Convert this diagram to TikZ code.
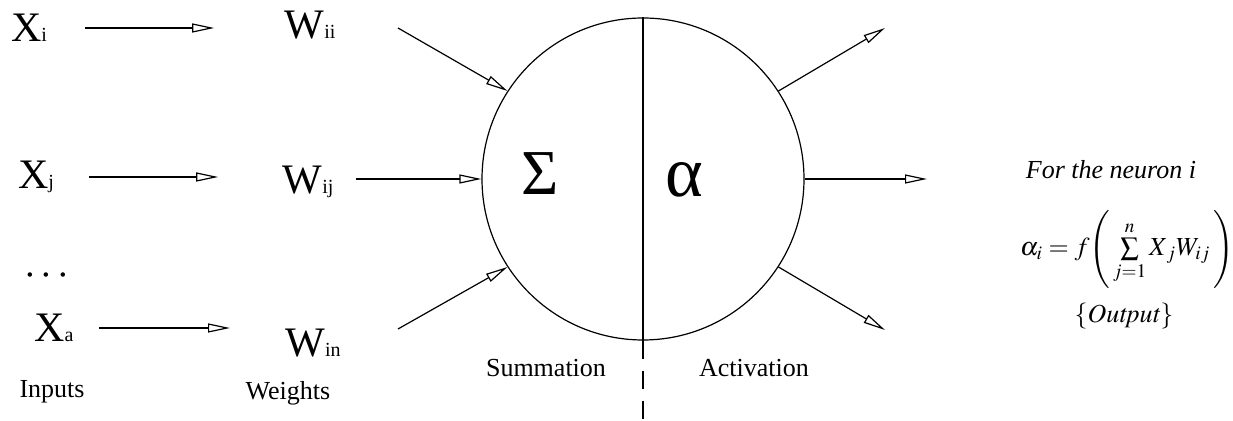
\documentclass[tikz,border=0pt]{standalone}
\usepackage{amsmath}
\usepackage{mathptmx}
\usepackage{fontspec}
\setmainfont{Liberation Serif}
\usepackage{tikz}
\usetikzlibrary{arrows.meta}

\newcommand{\sym}[2]{#1{\fontsize{10}{10}\selectfont #2}}

\begin{document}
\begin{tikzpicture}[
    x=0.5pt, y=-0.5pt,
    big/.style={font=\fontsize{21}{21}\selectfont, inner sep=0pt},
    caption/.style={font=\fontsize{13}{13}\selectfont, inner sep=0pt},
    tip/.style={-{Triangle[open, length=11pt, width=4.5pt]}, line width=0.6pt}
]
    \useasboundingbox (0,0) rectangle (1233,421);

    % neuron
    \node[draw, circle, line width=0.6pt, minimum size=161pt, inner sep=0pt] (neuron) at (643,179) {};
    \draw[line width=0.6pt] (neuron.north) -- (neuron.south);
    \coordinate (base) at (643,421);
    \draw[line width=0.6pt, dash pattern=on 9pt off 6pt] (neuron.south) -- (base);
    \node[font=\fontsize{32}{32}\selectfont, inner sep=0pt] (sigma) at (540,174) {Σ};
    \node[font=\fontsize{36}{36}\selectfont, inner sep=0pt] (alpha) at (684,180) {α};
    \node[caption] (sum) at (546,368) {Summation};
    \node[caption] (act) at (754,368) {Activation};

    % inputs and weights
    \node[big] (xi) at (29,28) {\sym{X}{i}};
    \node[big] (xj) at (36,177) {\sym{X}{j}};
    \node[big] (dots) at (49,276) {$\cdots$};
    \node[big] (xa) at (54,328) {\sym{X}{a}};
    \node[big] (wii) at (310,25) {\sym{W}{ii}};
    \node[big] (wij) at (308,182) {\sym{W}{ij}};
    \node[big] (win) at (313,343) {\sym{W}{in}};
    \node[caption] (inputs) at (52,392) {Inputs};
    \node[caption] (weights) at (288,393) {Weights};

    \draw[tip, shorten <=19pt, shorten >=35pt] (xi) -- (xi -| wii.west);
    \draw[tip, shorten <=17.5pt, shorten >=32pt] (xj) -- (xj -| wij.west);
    \draw[tip, shorten <=12.5pt, shorten >=27.5pt] (xa) -- (xa -| win.west);

    % into the neuron
    \coordinate (in1) at (398,28);
    \coordinate (in3) at (398,329);
    \draw[tip] (in1) -- (neuron.147);
    \draw[tip, shorten <=11pt] (wij.east |- neuron) -- (neuron.west);
    \draw[tip] (in3) -- (neuron.213);

    % out of the neuron
    \coordinate (out1) at (885,28);
    \coordinate (out2) at (927,179);
    \coordinate (out3) at (885,330);
    \draw[tip] (neuron.33) -- (out1);
    \draw[tip] (neuron.east) -- (out2);
    \draw[tip] (neuron.-33) -- (out3);

    % formula
    \node[caption] (title) at (1111,170) {\textit{For the neuron i}};
    \node[caption] (formula) at (1127,249)
        {$\alpha_i = f\Biggl(\,\sum\limits_{j=1}^{n} X_{\,j} W_{ij}\,\Biggr)$};
    \node[caption] (output) at (1124,316) {$\{\mathit{Output}\}$};
\end{tikzpicture}
\end{document}
